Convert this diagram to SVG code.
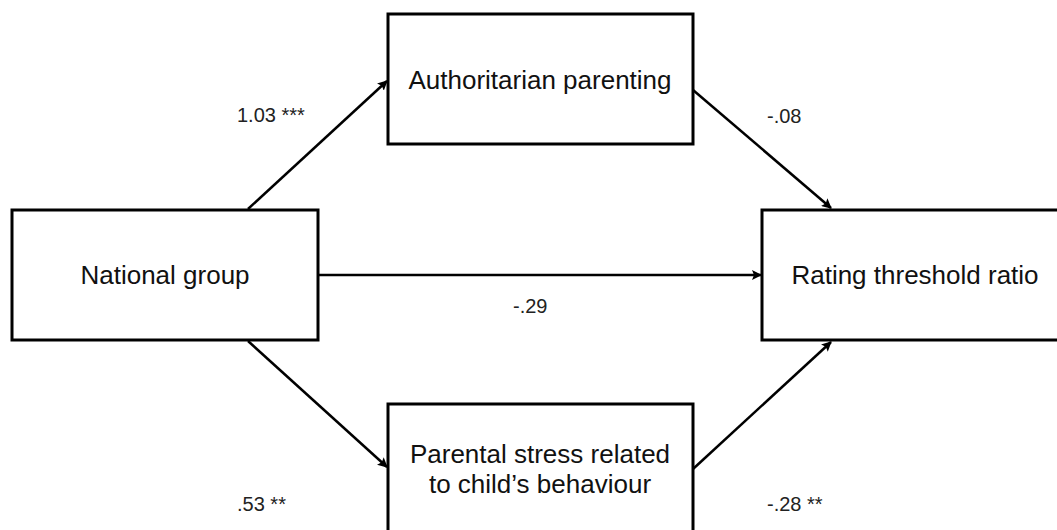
<svg xmlns="http://www.w3.org/2000/svg" width="1057" height="530" viewBox="0 0 1057 530">
<style>
.box{fill:#fff;stroke:#000;stroke-width:3}
.t{font-family:"Liberation Sans",Arial,sans-serif;font-size:26px;fill:#111;text-anchor:middle}
.l{font-family:"Liberation Sans",Arial,sans-serif;font-size:20px;fill:#222}
.c{stroke:#000;stroke-width:2.5;fill:none;marker-end:url(#ah)}
</style>
<defs>
<marker id="ah" viewBox="0 0 10 10" refX="9" refY="5" markerWidth="4" markerHeight="4" orient="auto" markerUnits="strokeWidth">
<path d="M0,0 L10,5 L0,10 L2,5 Z" fill="#000"/>
</marker>
</defs>
<rect width="1057" height="530" fill="#fff"/>
<g id="connectors">
<line class="c" x1="248" y1="209" x2="387" y2="81"/>
<line class="c" x1="693" y1="90" x2="831" y2="208"/>
<line class="c" x1="318" y1="275" x2="761" y2="275"/>
<line class="c" x1="248" y1="341" x2="387" y2="467"/>
<line class="c" x1="693" y1="469" x2="831" y2="342"/>
</g>
<g id="national">
<rect class="box" x="12" y="210" width="306" height="130"/>
<text class="t" x="165" y="284">National group</text>
</g>
<g id="authoritarian">
<rect class="box" x="388" y="14" width="305" height="130"/>
<text class="t" x="540" y="89">Authoritarian parenting</text>
</g>
<g id="stress">
<rect class="box" x="388" y="404" width="305" height="135"/>
<text class="t" x="540" y="463">Parental stress related</text>
<text class="t" x="540" y="493">to child’s behaviour</text>
</g>
<g id="rating">
<rect class="box" x="762" y="210" width="310" height="130"/>
<text class="t" x="915" y="284">Rating threshold ratio</text>
</g>
<g id="labels">
<text class="l" x="237" y="122">1.03 ***</text>
<text class="l" x="767" y="123">-.08</text>
<text class="l" x="513" y="313">-.29</text>
<text class="l" x="237" y="511">.53 **</text>
<text class="l" x="767" y="511">-.28 **</text>
</g>
</svg>
